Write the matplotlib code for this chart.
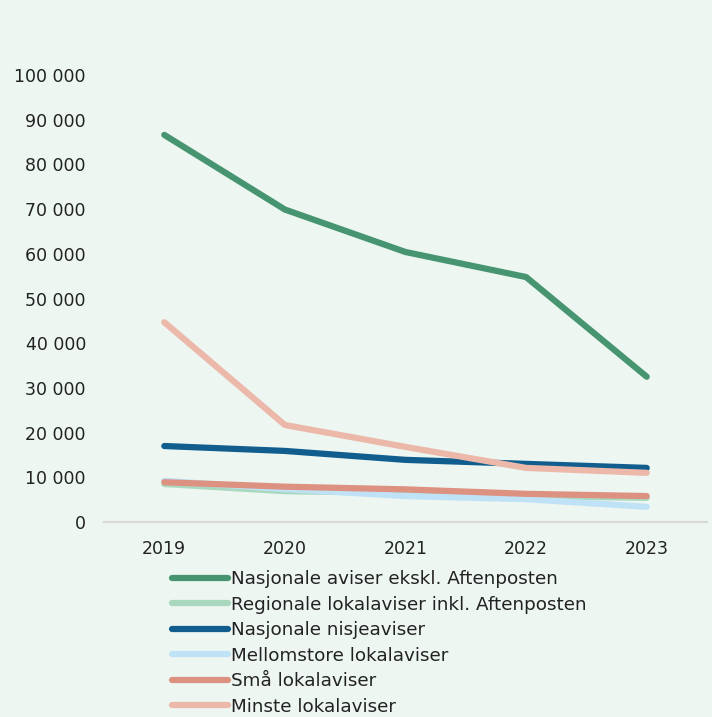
import matplotlib.pyplot as plt
from matplotlib.ticker import FuncFormatter

years = ["2019", "2020", "2021", "2022", "2023"]

nasjonale = [86600, 69900, 60400, 54800, 32500]
regionale = [8500, 6900, 6500, 5800, 5400]
nisje = [17000, 15900, 13900, 13000, 12100]
mellomstore = [9200, 7400, 5800, 5100, 3400]
smaa = [8900, 7900, 7300, 6300, 5800]
minste = [44700, 21700, 16800, 12100, 11000]

labels = [
    "Nasjonale aviser ekskl. Aftenposten",
    "Regionale lokalaviser inkl. Aftenposten",
    "Nasjonale nisjeaviser",
    "Mellomstore lokalaviser",
    "Små lokalaviser",
    "Minste lokalaviser",
]
colors = ["#479570", "#a9d8bf", "#115e8e", "#bfe2f6", "#dd9181", "#ebb8aa"]

bg = "#edf6f1"
txt = "#222222"

plt.rcParams["font.family"] = ["DejaVu Sans"]

fig = plt.figure(figsize=(7.12, 7.17), dpi=100, facecolor=bg)
ax = fig.add_axes([104 / 712, 1 - 522 / 717, 603 / 712, (522 - 75) / 717])
ax.set_facecolor(bg)

series = [nasjonale, regionale, nisje, mellomstore, smaa, minste]
# draw in the reference stacking order
order = [1, 3, 4, 2, 5, 0]
handles = {}
for i in order:
    h, = ax.plot(range(len(years)), series[i], color=colors[i], lw=4.5,
                 solid_capstyle="round", solid_joinstyle="round", label=labels[i])
    handles[i] = h

ax.set_xlim(-0.5, 4.5)
ax.set_ylim(0, 100000)
ax.set_yticks(range(0, 100001, 10000))
ax.yaxis.set_major_formatter(FuncFormatter(lambda v, p: f"{int(v):,}".replace(",", " ")))
ax.set_xticks(range(len(years)))
ax.set_xticklabels(years)
ax.tick_params(axis="both", length=0, labelsize=12.5, colors=txt)
ax.tick_params(axis="y", pad=13)
ax.tick_params(axis="x", pad=13)

for s in ["top", "right", "left"]:
    ax.spines[s].set_visible(False)
ax.spines["bottom"].set_color("#d9d9d9")
ax.spines["bottom"].set_linewidth(1.5)

leg = fig.legend([handles[i] for i in range(6)], labels, loc="upper left",
                 bbox_to_anchor=(172 / 712, 1 - 570 / 717), frameon=False,
                 fontsize=13.2, handlelength=3.06, handletextpad=0.16,
                 labelspacing=0.41, borderaxespad=0, borderpad=0)
for t in leg.get_texts():
    t.set_color(txt)

fig.savefig("out.png", dpi=100, facecolor=bg)
